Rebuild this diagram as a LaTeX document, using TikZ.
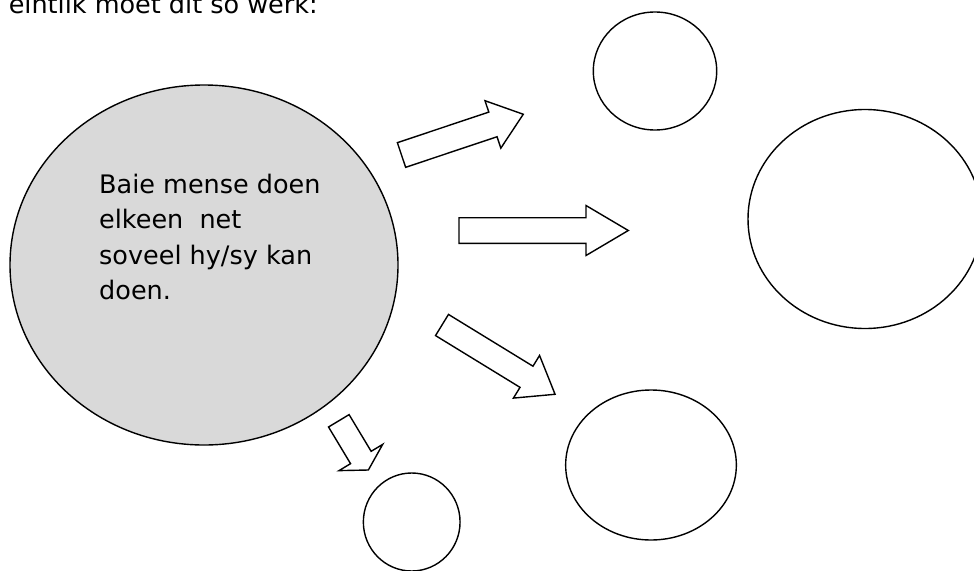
\documentclass[tikz,border=0pt]{standalone}
\usepackage{fontspec}
\setmainfont{DejaVu Sans}
\usetikzlibrary{shapes.geometric}

\tikzset{
  bubble/.style={draw,ellipse,line width=1.4pt,inner sep=0pt},
  woord/.style={inner sep=0pt,font=\fontsize{25.5}{35.6}\selectfont},
  pics/blockarrow/.style n args={4}{code={
    \draw[line width=1.4pt,fill=white]
      (0,-#2) -- ({#1-#3},-#2) -- ({#1-#3},-#4) -- (#1,0)
      -- ({#1-#3},#4) -- ({#1-#3},#2) -- (0,#2) -- cycle;
  }}
}

\begin{document}
\begin{tikzpicture}[x=1pt,y=1pt]
\useasboundingbox (0,0) rectangle (974,-570);
\node[woord,anchor=base west] (kop) at (8.6,-13.5) {eintlik moet dit so werk:};

\node[bubble,fill=black!15,minimum width=388pt,minimum height=360pt] (hoof) at (204,-265) {};
\node[bubble,minimum width=123.4pt,minimum height=118pt] (bo) at (655,-71) {};
\node[bubble,minimum width=234pt,minimum height=219pt] (regs) at (865,-219) {};
\node[bubble,minimum width=170.7pt,minimum height=150pt] (onder) at (651,-465) {};
\node[bubble,minimum width=96.7pt,minimum height=98pt] (klein) at (411.7,-522) {};

\node[woord,anchor=north west,align=left] (teks) at (99,-173.5)
  {Baie mense doen\\elkeen\ \ net\\soveel hy/sy kan\\doen.};

\pic[rotate=18.5] (pylA) at (401.5,-155) {blockarrow={128.4}{13}{32}{25}};
\pic (pylB) at (459,-230.5) {blockarrow={169.3}{12.8}{42.3}{25}};
\pic[rotate=-31.5] (pylC) at (442,-325) {blockarrow={132.6}{12.4}{33.5}{25}};
\pic[rotate=-59] (pylD) at (338.8,-420.8) {blockarrow={57.4}{12}{14.6}{25.5}};
\end{tikzpicture}
\end{document}
